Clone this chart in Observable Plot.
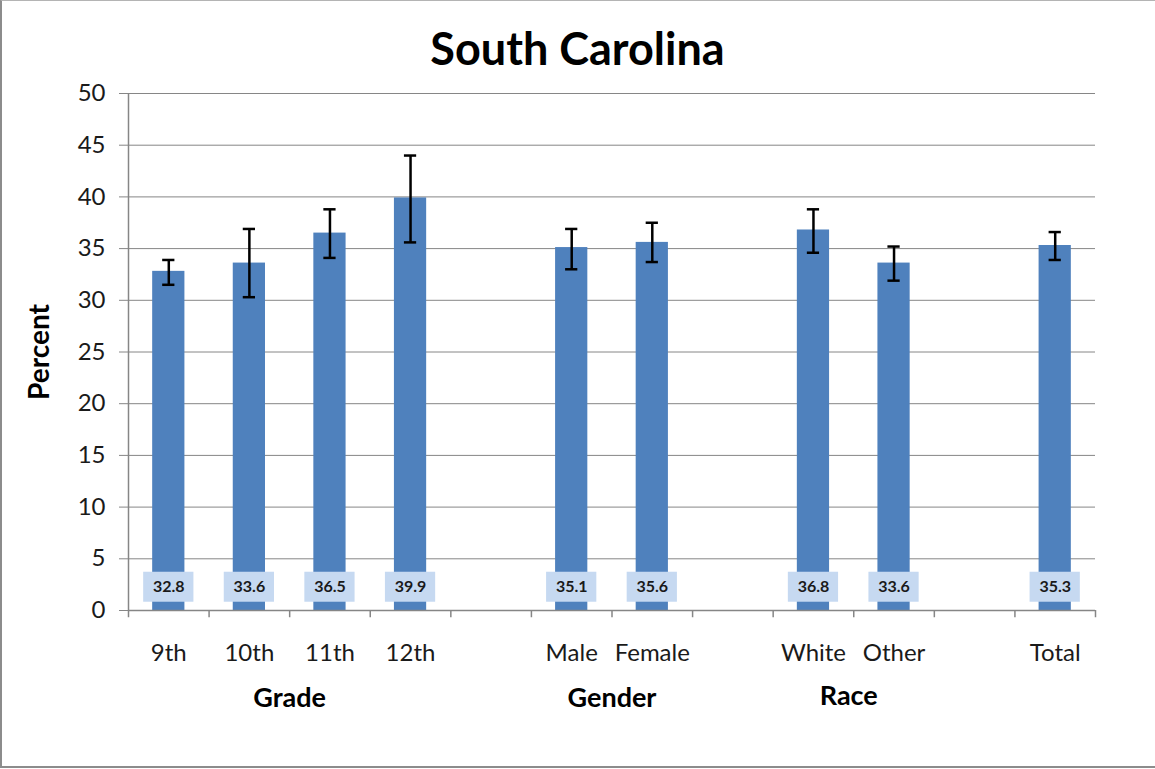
<!DOCTYPE html>
<html><head><meta charset="utf-8">
<script src="https://cdn.jsdelivr.net/npm/d3@7"></script>
<script src="https://cdn.jsdelivr.net/npm/@observablehq/plot@0.6"></script>
<style>
body{margin:0;background:#fff;overflow:hidden;}
#frame{position:absolute;left:0;top:0;width:1170px;height:765px;border-left:2px solid #8c8c8c;border-top:1px solid #b4b4b4;border-bottom:2px solid #8c8c8c;}
#title{position:absolute;left:0;width:1155px;top:26px;text-align:center;font-family:Lato,"Open Sans",sans-serif;font-weight:bold;font-size:45px;line-height:45px;color:#000;z-index:1;}
#chart{position:absolute;left:0;top:60px;}
</style>
</head><body>
<div id="frame"></div>
<div id="chart"></div>
<div id="title">South Carolina</div>
<script>
const categories = ["9th","10th","11th","12th"," ","Male","Female","  ","White","Other","   ","Total"];
const barCategories = ["9th","10th","11th","12th","Male","Female","White","Other","Total"];
const values = [32.8,33.6,36.5,39.9,35.1,35.6,36.8,33.6,35.3];
const lower  = [31.5,30.3,34.1,35.6,33.0,33.7,34.6,31.9,33.9];
const upper  = [33.9,36.9,38.8,44.0,36.9,37.5,38.8,35.2,36.6];
const groupLabels = ["Grade","Gender","Race"];
const groupAnchors = ["11th","Female","Other"];
const yTicks = [0,5,10,15,20,25,30,35,40,45,50];

const data = barCategories.map((c,i)=>({cat:c, value:values[i], lo:lower[i], hi:upper[i]}));
const groups = groupLabels.map((g,i)=>({label:g, anchor:groupAnchors[i]}));

const W = 1155, H = 709, mL = 128, mR = 60, mT = 33, mB = 159;
const step = (W - mL - mR) / categories.length;
const font = "Lato, 'Open Sans', sans-serif";

const chart = Plot.plot({
  width: W, height: H,
  marginLeft: mL, marginRight: mR, marginTop: mT, marginBottom: mB,
  style: {fontFamily: font, background: "transparent"},
  x: {domain: categories, paddingInner: 0.6, paddingOuter: 0.3, align: 0.5, round: false},
  y: {domain: [0, 50]},
  marks: [
    Plot.gridY(yTicks, {stroke: "#868686", strokeOpacity: 1, strokeWidth: 1}),
    Plot.barY(data, {x: "cat", y: "value", fill: "#4f81bd"}),
    Plot.barY(data, {x: "cat", y1: 0.8, y2: 3.7, fill: "#c6d9f1", insetLeft: -9, insetRight: -9}),
    Plot.text(data, {x: "cat", y: 2.25, text: d => d.value.toFixed(1), fill: "#1a1a1a", fontSize: 16, fontWeight: "bold"}),
    Plot.ruleX(data, {x: "cat", y1: "lo", y2: "hi", stroke: "#000", strokeWidth: 2.5}),
    Plot.tickY(data, {x: "cat", y: "lo", stroke: "#000", strokeWidth: 2.5, insetLeft: 10, insetRight: 10}),
    Plot.tickY(data, {x: "cat", y: "hi", stroke: "#000", strokeWidth: 2.5, insetLeft: 10, insetRight: 10}),
    Plot.ruleY([0], {stroke: "#868686", strokeWidth: 1.5}),
    Plot.ruleX(categories, {x: d => d, dx: -step/2, y1: 0, y2: -0.7, stroke: "#868686", strokeWidth: 1.5}),
    Plot.ruleX(["Total"], {x: d => d, dx: step/2, y1: 0, y2: -0.7, stroke: "#868686", strokeWidth: 1.5}),
    Plot.ruleX(["9th"], {x: d => d, dx: -step/2, y1: 0, y2: 50, stroke: "#868686", strokeWidth: 1.5}),
    Plot.axisY(yTicks, {tickSize: 9, tickPadding: 14, fontSize: 24, fill: "#1a1a1a", stroke: "#868686", label: null}),
    Plot.axisX({tickSize: 0, tickPadding: 33, fontSize: 24, fill: "#1a1a1a", label: null}),
    Plot.text(groups.filter(g => g.label !== "Race"), {x: "anchor", dx: -step/2, frameAnchor: "bottom", lineAnchor: "middle", dy: 88, text: "label", fontSize: 27, fontWeight: "bold", fill: "#000"}),
    Plot.text(groups.filter(g => g.label === "Race"), {x: "anchor", dx: -step/2 - 5, frameAnchor: "bottom", lineAnchor: "middle", dy: 86, text: "label", fontSize: 27, fontWeight: "bold", fill: "#000"}),
    Plot.text(["Percent"], {frameAnchor: "left", dx: -88, rotate: -90, textAnchor: "middle", lineAnchor: "middle", text: d => d, fontSize: 28, fontWeight: "bold", fill: "#000"})
  ]
});
document.getElementById("chart").appendChild(chart);
</script>
</body></html>
